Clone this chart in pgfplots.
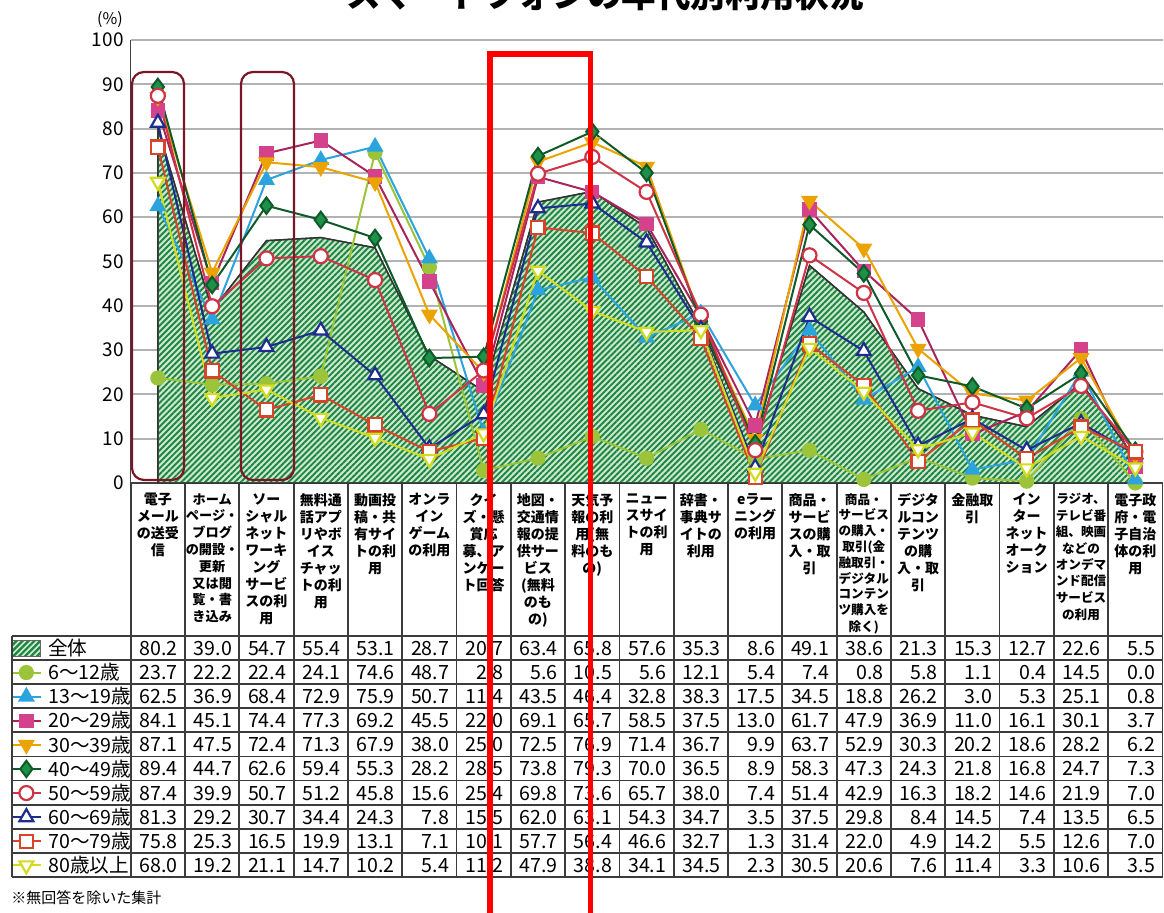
\documentclass[border=0pt]{standalone}
\usepackage{fontspec}
\setmainfont{Noto Sans CJK JP}
\usepackage{pgfplots}
\usepackage{pgfplotstable}
\pgfplotsset{compat=1.18}
\usetikzlibrary{patterns.meta}
\pgfkeys{/pgf/number format/assume math mode=true}

\definecolor{areabg}{HTML}{CBE9CB}
\definecolor{areahatch}{HTML}{1E8444}
\definecolor{sA}{HTML}{9CC43A}
\definecolor{sB}{HTML}{2BA4DD}
\definecolor{sC}{HTML}{D3428A}
\definecolor{sCl}{HTML}{A8245A}
\definecolor{sD}{HTML}{EAA300}
\definecolor{sE}{HTML}{1D9148}
\definecolor{sEl}{HTML}{0E5A28}
\definecolor{sF}{HTML}{CE3346}
\definecolor{sG}{HTML}{1E2C8E}
\definecolor{sH}{HTML}{D8442A}
\definecolor{sI}{HTML}{D2DC1E}
\definecolor{boxred}{HTML}{7A1626}
\definecolor{tablegray}{HTML}{3C3C3C}

% usage rate (%) per service: all ages, then each age group
\pgfplotstableread{
x    all  a    b    c    d    e    f    g    h    i
0.5  80.2 23.7 62.5 84.1 87.1 89.4 87.4 81.3 75.8 68.0
1.5  39.0 22.2 36.9 45.1 47.5 44.7 39.9 29.2 25.3 19.2
2.5  54.7 22.4 68.4 74.4 72.4 62.6 50.7 30.7 16.5 21.1
3.5  55.4 24.1 72.9 77.3 71.3 59.4 51.2 34.4 19.9 14.7
4.5  53.1 74.6 75.9 69.2 67.9 55.3 45.8 24.3 13.1 10.2
5.5  28.7 48.7 50.7 45.5 38.0 28.2 15.6 7.8  7.1  5.4
6.5  20.7 2.8  11.4 22.0 25.0 28.5 25.4 15.5 10.1 11.2
7.5  63.4 5.6  43.5 69.1 72.5 73.8 69.8 62.0 57.7 47.9
8.5  65.8 10.5 46.4 65.7 76.9 79.3 73.6 63.1 56.4 38.8
9.5  57.6 5.6  32.8 58.5 71.4 70.0 65.7 54.3 46.6 34.1
10.5 35.3 12.1 38.3 37.5 36.7 36.5 38.0 34.7 32.7 34.5
11.5 8.6  5.4  17.5 13.0 9.9  8.9  7.4  3.5  1.3  2.3
12.5 49.1 7.4  34.5 61.7 63.7 58.3 51.4 37.5 31.4 30.5
13.5 38.6 0.8  18.8 47.9 52.9 47.3 42.9 29.8 22.0 20.6
14.5 21.3 5.8  26.2 36.9 30.3 24.3 16.3 8.4  4.9  7.6
15.5 15.3 1.1  3.0  11.0 20.2 21.8 18.2 14.5 14.2 11.4
16.5 12.7 0.4  5.3  16.1 18.6 16.8 14.6 7.4  5.5  3.3
17.5 22.6 14.5 25.1 30.1 28.2 24.7 21.9 13.5 12.6 10.6
18.5 5.5  0.0  0.8  3.7  6.2  7.3  7.0  6.5  7.0  3.5
}\usage

\tikzset{
  hatchfill/.style={fill=areabg,
    postaction={pattern={Lines[angle=45,distance=2.1pt,line width=0.95pt]},
                pattern color=areahatch}},
  px/.style={x=0.5pt,y=0.5pt},
}

\begin{document}
\begin{tikzpicture}
% page frame: 1164 x 913 units of 0.5pt
\useasboundingbox (0,0) rectangle (582pt,456.5pt);

\begin{scope}[px]
% title (runs past the top edge)
\node[anchor=base, font=\fontsize{17.3}{20}\selectfont\bfseries] at (605,905) {スマートフォンの年代別利用状況};
\end{scope}

\begin{axis}[
  at={(65.35pt,215pt)}, anchor=south west,
  scale only axis, width=515.9pt, height=221.5pt,
  xmin=0, xmax=19, ymin=0, ymax=100,
  clip=false,
  axis x line*=bottom, axis y line*=left,
  axis line style={draw=black!75, line width=0.8pt},
  major tick length=0pt,
  ytick={0,10,...,100},
  ymajorgrids, major grid style={draw=black!30, line width=1pt},
  yticklabel style={font=\fontsize{9.5}{10}\selectfont},
  xtick={0.5,1.5,...,18.5},
  xticklabel style={anchor=north, inner sep=0pt, yshift=-5pt, text width=27pt,
    align=center, font=\fontsize{7}{8.5}\selectfont\bfseries},
  xticklabels={
    {電子\\メール\\の送受\\信},
    {\fontsize{6.6}{8.4}\selectfont ホーム\\ページ・\\ブログ\\の開設・\\更新\\又は閲\\覧・書\\き込み},
    {ソー\\シャル\\ネット\\ワーキ\\ング\\サービ\\スの利\\用},
    {無料通\\話アプ\\リやボ\\イス\\チャッ\\トの利\\用},
    {動画投\\稿・共\\有サイ\\トの利\\用},
    {オンラ\\イン\\ゲーム\\の利用},
    {クイ\\ズ・懸\\賞応\\募、ア\\ンケー\\ト回答},
    {地図・\\交通情\\報の提\\供サー\\ビス\\(無料\\のも\\の)},
    {天気予\\報の利\\用(無\\料のも\\の)},
    {ニュー\\スサイ\\トの利\\用},
    {辞書・\\事典サ\\イトの\\利用},
    {eラー\\ニング\\の利用},
    {商品・\\サービ\\スの購\\入・取\\引},
    {\fontsize{6.3}{7.9}\selectfont 商品・\\サービス\\の購入・\\取引(金\\融取引・\\デジタル\\コンテン\\ツ購入を\\除く)},
    {デジタ\\ルコン\\テンツ\\の購\\入・取\\引},
    {金融取\\引},
    {イン\\ター\\ネット\\オーク\\ション},
    {\fontsize{6.3}{8.2}\selectfont ラジオ、\\テレビ番\\組、映画\\などの\\オンデマ\\ンド配信\\サービス\\の利用},
    {電子政\\府・電\\子自治\\体の利\\用}
  },
  legend image code/.code={\draw[mark repeat=2,mark phase=2,#1]
    plot coordinates {(0pt,0pt) (7.5pt,0pt) (15pt,0pt)};},
  legend style={at={(axis description cs:-0.117,-0.3454)}, anchor=north west,
    draw=none, fill=none, inner sep=0pt, row sep=0pt,
    font=\fontsize{9.8}{11}\selectfont,
    nodes={inner xsep=3pt, inner ysep=0pt, text height=9.6pt, text depth=2.45pt}},
  legend cell align=left,
  every axis plot/.append style={line width=1pt},
]
\addplot[draw=black!80, line width=0.7pt, hatchfill,
  legend image code/.code={\draw[draw=black!60, line width=0.4pt, hatchfill]
    (0pt,-4pt) rectangle (14.5pt,4pt);}]
  table[x=x,y=all]{\usage} \closedcycle;
\addlegendentry{全体}
\addplot[color=sA, mark=*, mark size=3.3pt, mark options={solid,fill=sA}]
  table[x=x,y=a]{\usage};
\addlegendentry{6～12歳}
\addplot[color=sB, mark=triangle*, mark size=3.9pt, mark options={solid,fill=sB}]
  table[x=x,y=b]{\usage};
\addlegendentry{13～19歳}
\addplot[color=sCl, mark=square*, mark size=3.1pt, mark options={solid,fill=sC,draw=sC}]
  table[x=x,y=c]{\usage};
\addlegendentry{20～29歳}
\addplot[color=sD, mark=triangle*, mark size=3.9pt, mark options={solid,fill=sD,rotate=180}]
  table[x=x,y=d]{\usage};
\addlegendentry{30～39歳}
\addplot[color=sEl, mark=diamond*, mark size=4.1pt, mark options={solid,fill=sE,draw=sEl}]
  table[x=x,y=e]{\usage};
\addlegendentry{40～49歳}
\addplot[color=sF, mark=*, mark size=3.5pt, mark options={solid,fill=white,line width=1.1pt}]
  table[x=x,y=f]{\usage};
\addlegendentry{50～59歳}
\addplot[color=sG, mark=triangle*, mark size=4pt, mark options={solid,fill=white,line width=1.1pt}]
  table[x=x,y=g]{\usage};
\addlegendentry{60～69歳}
\addplot[color=sH, mark=square*, mark size=3.3pt, mark options={solid,fill=white,line width=1.1pt}]
  table[x=x,y=h]{\usage};
\addlegendentry{70～79歳}
\addplot[color=sI, mark=triangle*, mark size=4pt, mark options={solid,fill=white,line width=1.1pt,rotate=180}]
  table[x=x,y=i]{\usage};
\addlegendentry{80歳以上}
\end{axis}

\begin{scope}[px]
% (%) unit above the value axis
\node[font=\fontsize{8}{9}\selectfont] at (110,893) {(\%)};

% table grid
\begin{scope}[draw=tablegray, line width=0.9pt]
  \foreach \k in {0,...,10}
    \draw (12,{913-636-24.1*\k}) -- (1162.5,{913-636-24.1*\k});
  \draw (12,{913-636}) -- (12,{913-877});
  \foreach \k in {0,...,19}
    \draw ({130.7+54.3*\k},430) -- ({130.7+54.3*\k},{913-877});
\end{scope}

% table values
\foreach \col [count=\s from 0] in {all,a,b,c,d,e,f,g,h,i}{
  \foreach \c in {0,...,18}{
    \pgfplotstablegetelem{\c}{\col}\of\usage
    \node[anchor=base east, inner sep=0pt, font=\fontsize{9.8}{11}\selectfont]
      at ({130.7+(\c+1)*54.3-7},{913-(636+19.5+24.1*\s)})
      {\pgfmathprintnumber[fixed,fixed zerofill,precision=1]{\pgfplotsretval}};
  }
}

% highlight frames
\draw[boxred, line width=1.1pt, rounded corners=6pt] (132,{913-480}) rectangle (184,{913-72});
\draw[boxred, line width=1.1pt, rounded corners=6pt] (241,{913-480}) rectangle (294,{913-72});
\draw[red, line width=2.6pt] (490,-20) -- (490,{913-54}) -- (590.5,{913-54}) -- (590.5,-20);

% footnote
\node[anchor=west, inner sep=0pt, font=\fontsize{7.5}{9}\selectfont] at (11,{913-898}) {※無回答を除いた集計};
\end{scope}
\end{tikzpicture}
\end{document}
